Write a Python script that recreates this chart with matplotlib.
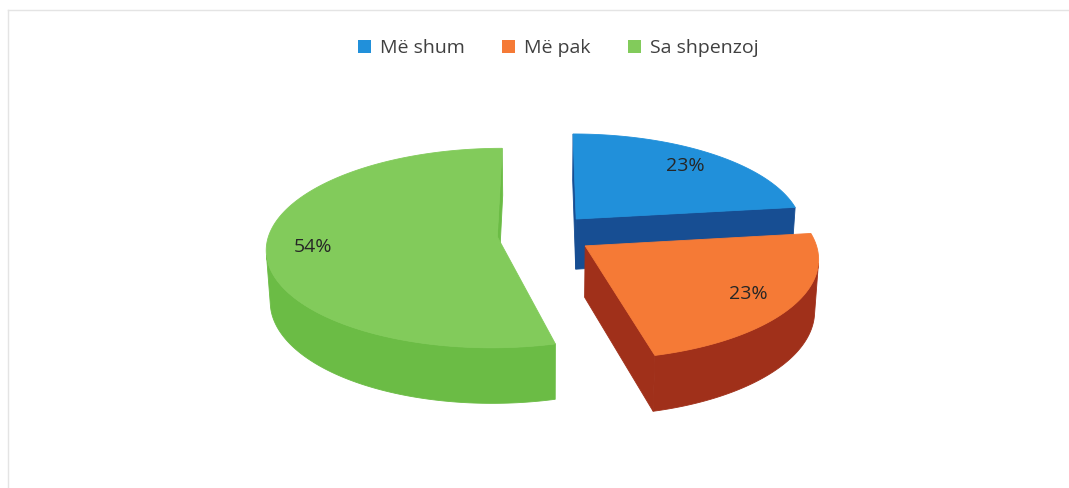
"""
Exploded 3D pie: Më shum / Më pak / Sa shpenzoj.
"""

import numpy as np
import matplotlib.pyplot as plt
from matplotlib.patches import Polygon, Patch
from matplotlib.lines import Line2D

labels = ["Më shum", "Më pak", "Sa shpenzoj"]
shares = [23, 23, 54]
top_colors = ["#2190DA", "#F57A36", "#82CB5B"]
side_colors = ["#174E93", "#A0301A", "#6BBC45"]

# view / layout settings (pixel space)
W, H = 1069, 488
CX, CY = 545, 285          # centre of the pie's ground plane on the canvas
F = 225                    # pixel scale for a unit radius
ELEV = np.radians(27)
DIST = 8.0
THICK = 0.25
EXPLODE = 0.21

cam = np.array([0.0, -DIST * np.cos(ELEV), DIST * np.sin(ELEV)])


def project(X, Y, Z):
    X, Y, Z = np.broadcast_arrays(np.asarray(X, float), np.asarray(Y, float), np.asarray(Z, float))
    yc = Y * np.sin(ELEV) + Z * np.cos(ELEV)
    depth = DIST + Y * np.cos(ELEV) - Z * np.sin(ELEV)
    u = F * DIST * X / depth
    v = F * DIST * yc / depth
    return np.column_stack([CX + u, CY - v])


fig = plt.figure(figsize=(W / 100, H / 100), dpi=100)
ax = fig.add_axes([0, 0, 1, 1])
ax.set_xlim(0, W)
ax.set_ylim(H, 0)
ax.axis("off")

# faint frame lines
ax.add_line(Line2D([8, W], [10, 10], color="#e4e4e4", lw=1))
ax.add_line(Line2D([8, 8], [10, H], color="#e4e4e4", lw=1))

fracs = np.array(shares) / sum(shares)
ends = np.cumsum(fracs) * 2 * np.pi
starts = ends - fracs * 2 * np.pi

slices = []
for i in range(len(shares)):
    a0, a1 = starts[i], ends[i]
    mid = (a0 + a1) / 2
    ox, oy = EXPLODE * np.sin(mid), EXPLODE * np.cos(mid)
    slices.append((i, a0, a1, mid, ox, oy))

# paint far slices first
slices.sort(key=lambda s: -s[5])

for i, a0, a1, mid, ox, oy in slices:
    th = np.linspace(a0, a1, 200)
    ax_x = ox + np.sin(th)
    ax_y = oy + np.cos(th)
    faces = []

    # outer curved wall, only the parts that face the camera
    pts = np.column_stack([ax_x, ax_y, np.zeros_like(th)])
    normals = np.column_stack([np.sin(th), np.cos(th), np.zeros_like(th)])
    vis = np.sum(normals * (cam - pts), axis=1) > 0
    idx = np.where(vis)[0]
    if len(idx):
        runs = np.split(idx, np.where(np.diff(idx) > 1)[0] + 1)
        for r in runs:
            if len(r) < 2:
                continue
            top = project(ax_x[r], ax_y[r], THICK)
            bot = project(ax_x[r], ax_y[r], 0)
            faces.append(np.vstack([top, bot[::-1]]))

    # radial cut faces
    for a, sgn in ((a0, -1), (a1, 1)):
        px = [ox, ox + np.sin(a), ox + np.sin(a), ox]
        py = [oy, oy + np.cos(a), oy + np.cos(a), oy]
        pz = [THICK, THICK, 0, 0]
        n = np.array([np.cos(a), -np.sin(a), 0]) * sgn
        centre = np.array([np.mean(px), np.mean(py), THICK / 2])
        if np.dot(n, cam - centre) > 0:
            faces.append(project(px, py, pz))

    for poly in faces:
        ax.add_patch(Polygon(poly, closed=True, facecolor=side_colors[i],
                             edgecolor=side_colors[i], lw=0.6))

    # top face
    top = project(np.r_[ox, ax_x], np.r_[oy, ax_y], THICK)
    ax.add_patch(Polygon(top, closed=True, facecolor=top_colors[i],
                         edgecolor=top_colors[i], lw=0.6))

    # percentage label on the top face
    lx, ly = ox + 0.8 * np.sin(mid), oy + 0.8 * np.cos(mid)
    p = project(lx, ly, THICK)[0]
    ax.text(p[0], p[1], f"{shares[i]}%", ha="center", va="center",
            fontsize=14, color="#262626", family="Open Sans")

handles = [Patch(facecolor=c, edgecolor="none") for c in top_colors]
fig.legend(handles, labels, loc="upper center", bbox_to_anchor=(0.522, 0.955),
           ncol=3, frameon=False, handlelength=0.7, handleheight=0.7,
           handletextpad=0.45, columnspacing=1.9,
           prop={"family": "Open Sans", "size": 14}, labelcolor="#404040")

fig.savefig("out.png", dpi=100)
